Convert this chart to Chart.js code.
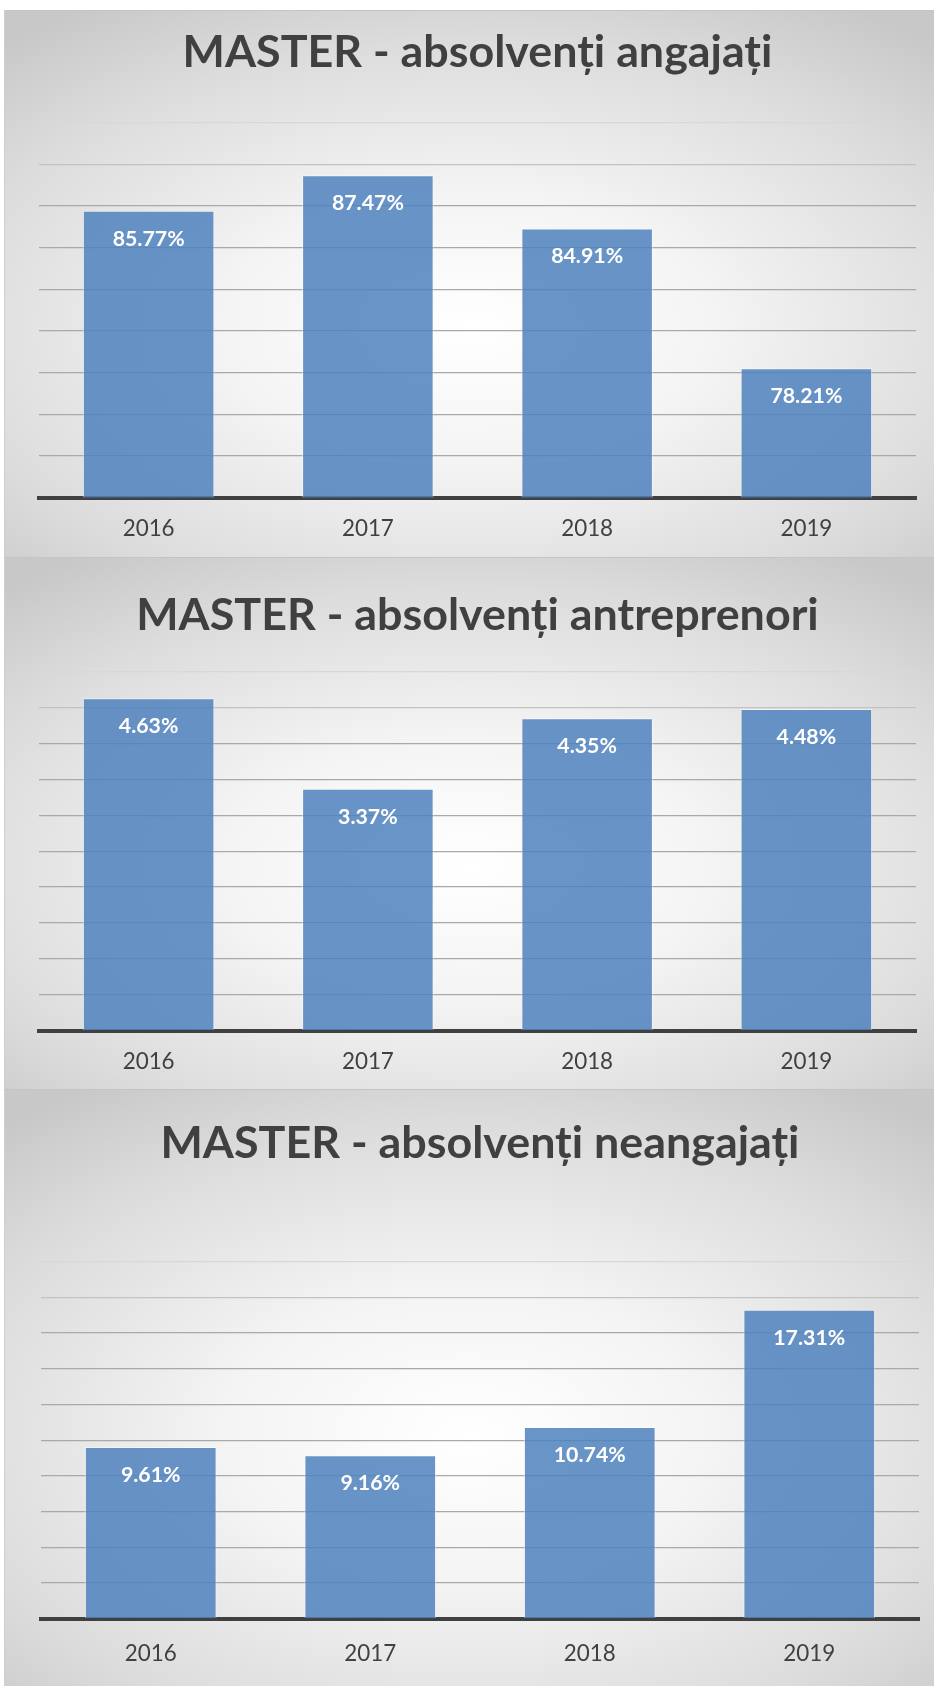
<!DOCTYPE html>
<html>
<head>
<meta charset="utf-8">
<script src="https://cdn.jsdelivr.net/npm/chart.js@4.4.1/dist/chart.umd.min.js"></script>
<style>
  html, body { margin: 0; padding: 0; background: #ffffff; }
  body { width: 934px; height: 1686px; position: relative; overflow: hidden; }
  .panel {
    position: absolute; left: 4px; width: 930px;
    border-top: 1px solid #c4c4c4; border-left: 1px solid #cfcfcf;
    box-sizing: border-box;
    background: radial-gradient(ellipse 75% 70% at 50% 58%, #ffffff 0%, #f4f4f4 35%, #dcdcdc 75%, #c8c8c8 100%);
  }
  .panel canvas { position: absolute; left: 0; top: 0; }
</style>
</head>
<body>
<div class="panel" id="p1" style="top:10px;height:547px"><canvas id="c1" width="930" height="547"></canvas></div>
<div class="panel" id="p2" style="top:557px;height:532px"><canvas id="c2" width="930" height="532"></canvas></div>
<div class="panel" id="p3" style="top:1089px;height:597px"><canvas id="c3" width="930" height="597"></canvas></div>
<script>
// data
const years = ['2016', '2017', '2018', '2019'];
const angajati = [85.77, 87.47, 84.91, 78.21];
const antreprenori = [4.63, 3.37, 4.35, 4.48];
const neangajati = [9.61, 9.16, 10.74, 17.31];
const titles = ['MASTER - absolvenți angajați', 'MASTER - absolvenți antreprenori', 'MASTER - absolvenți neangajați'];
const yMins = [72, 0, 0];
const yMaxs = [90, 5, 20];
const ySteps = [2, 0.5, 2];

const FONT = 'Lato';

// pick a font size so that a text gets a given width
function fitSize(text, weight, width) {
    const c = document.createElement('canvas').getContext('2d');
    c.font = weight + ' 100px ' + FONT;
    return 100 * width / c.measureText(text).width;
}
const titleSize = fitSize(titles[0], 'bold', 590);
const tickSize = fitSize('2016', 'normal', 52);
const valueSize = fitSize('85.77%', 'bold', 72);

// draws the value inside the top of every bar
const valueLabels = {
    id: 'valueLabels',
    afterDatasetsDraw(chart) {
        const ctx = chart.ctx;
        ctx.save();
        ctx.font = 'bold ' + valueSize + 'px ' + FONT;
        ctx.fillStyle = '#ffffff';
        ctx.textAlign = 'center';
        ctx.textBaseline = 'middle';
        chart.getDatasetMeta(0).data.forEach((bar, i) => {
            const v = chart.data.datasets[0].data[i];
            ctx.fillText(v.toFixed(2) + '%', bar.x, bar.y + 28);
        });
        ctx.restore();
    }
};

function makeChart(id, idx, values, lay) {
    const nTicks = Math.round((yMaxs[idx] - yMins[idx]) / ySteps[idx]);
    return new Chart(document.getElementById(id), {
        type: 'bar',
        data: {
            labels: years,
            datasets: [{
                data: values,
                backgroundColor: 'rgba(79, 129, 189, 0.85)',
                borderColor: 'rgba(255, 255, 255, 0.45)',
                borderWidth: 1,
                barPercentage: 0.6,
                categoryPercentage: 1.0
            }]
        },
        options: {
            responsive: false,
            animation: false,
            devicePixelRatio: 1,
            layout: { padding: { left: lay.left, right: lay.right, top: 0, bottom: 0 } },
            plugins: {
                legend: { display: false },
                tooltip: { enabled: false },
                title: {
                    display: true,
                    text: titles[idx],
                    color: '#404040',
                    font: { family: FONT, weight: 'bold', size: titleSize, lineHeight: 1.2 },
                    padding: {
                        top: lay.titleY - 0.6 * titleSize,
                        bottom: lay.plotTop - lay.titleY - 0.6 * titleSize
                    }
                }
            },
            scales: {
                x: {
                    z: 1,
                    grid: { display: false, drawTicks: false },
                    border: { display: true, color: '#404040', width: 4 },
                    ticks: {
                        color: '#404040',
                        font: { family: FONT, size: tickSize, lineHeight: 1.2 },
                        padding: lay.labelY - 0.6 * tickSize
                    },
                    afterFit: s => { s.height = lay.axisH; }
                },
                y: {
                    min: yMins[idx],
                    max: yMaxs[idx],
                    ticks: { display: false, stepSize: ySteps[idx] },
                    border: { display: false },
                    grid: {
                        drawTicks: false,
                        lineWidth: 1.3,
                        color: c => c.index === nTicks ? '#d8d8d8' : (c.index === nTicks - 1 ? '#c2c2c2' : '#a9a9a9')
                    }
                }
            }
        },
        plugins: [valueLabels]
    });
}

makeChart('c1', 0, angajati, { left: 34, right: 19, titleY: 42, plotTop: 111.5, labelY: 31.5, axisH: 60.4 });
makeChart('c2', 1, antreprenori, { left: 34, right: 19, titleY: 57.8, plotTop: 113.7, labelY: 31.1, axisH: 59.3 });
makeChart('c3', 2, neangajati, { left: 36, right: 16, titleY: 53.5, plotTop: 171.7, labelY: 35.3, axisH: 68.4 });
</script>
</body>
</html>
